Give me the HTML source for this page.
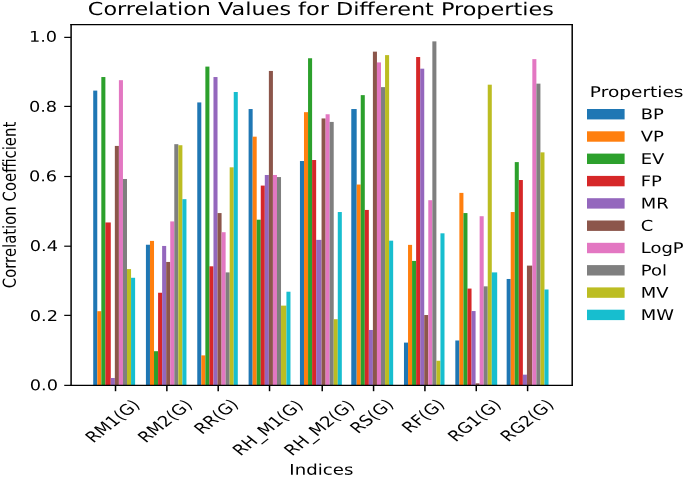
<!DOCTYPE html>
<html lang="en"><head><meta charset="utf-8"><title>Correlation Values for Different Properties</title>
<style>html,body{margin:0;padding:0;background:#fff}svg{display:block}text{font-family:'DejaVu Sans','Liberation Sans',sans-serif;fill:#000;text-rendering:geometricPrecision}</style></head><body>
<svg width="685" height="477" viewBox="0 0 685 477">
<defs><filter id="soft" filterUnits="userSpaceOnUse" x="0" y="0" width="685" height="477" color-interpolation-filters="sRGB"><feGaussianBlur stdDeviation="0.55 0.4"/></filter></defs>
<rect width="685" height="477" fill="#fff"/>
<g filter="url(#soft)">
<rect width="685" height="477" fill="#fff"/>
<g fill="#1f77b4">
<rect x="93.22" y="90.6" width="4.05" height="294.7"/>
<rect x="145.92" y="244.74" width="4.05" height="140.56"/>
<rect x="197.26" y="102.43" width="4.05" height="282.87"/>
<rect x="248.6" y="109.04" width="4.05" height="276.26"/>
<rect x="299.94" y="161.02" width="4.05" height="224.28"/>
<rect x="351.28" y="109.04" width="5.4" height="276.26"/>
<rect x="403.97" y="342.61" width="4.05" height="42.69"/>
<rect x="455.32" y="340.49" width="4.05" height="44.81"/>
<rect x="506.66" y="278.97" width="4.05" height="106.33"/>
</g>
<g fill="#ff7f0e">
<rect x="97.28" y="311.19" width="4.05" height="74.11"/>
<rect x="149.97" y="240.91" width="4.05" height="144.39"/>
<rect x="201.31" y="355.38" width="4.05" height="29.92"/>
<rect x="252.65" y="136.67" width="4.05" height="248.63"/>
<rect x="303.99" y="112.17" width="4.05" height="273.13"/>
<rect x="356.69" y="184.54" width="4.05" height="200.76"/>
<rect x="408.03" y="244.88" width="4.05" height="140.42"/>
<rect x="459.37" y="192.89" width="4.05" height="192.41"/>
<rect x="510.71" y="212.03" width="4.05" height="173.27"/>
</g>
<g fill="#2ca02c">
<rect x="101.33" y="77.03" width="4.05" height="308.27"/>
<rect x="154.02" y="351.2" width="4.05" height="34.1"/>
<rect x="205.36" y="66.6" width="4.05" height="318.7"/>
<rect x="256.71" y="219.69" width="4.05" height="165.61"/>
<rect x="308.05" y="58.25" width="4.05" height="327.05"/>
<rect x="360.74" y="95.13" width="4.05" height="290.17"/>
<rect x="412.08" y="260.92" width="4.05" height="124.38"/>
<rect x="463.42" y="213.07" width="4.05" height="172.23"/>
<rect x="514.76" y="162.1" width="4.05" height="223.2"/>
</g>
<g fill="#d62728">
<rect x="105.38" y="222.47" width="5.4" height="162.83"/>
<rect x="158.08" y="292.75" width="4.05" height="92.55"/>
<rect x="209.42" y="266.31" width="4.05" height="118.99"/>
<rect x="260.76" y="185.59" width="4.05" height="199.71"/>
<rect x="312.1" y="160.02" width="4.05" height="225.28"/>
<rect x="364.79" y="209.94" width="4.05" height="175.36"/>
<rect x="416.13" y="57.03" width="4.05" height="328.27"/>
<rect x="467.48" y="288.58" width="4.05" height="96.72"/>
<rect x="518.82" y="180.02" width="4.05" height="205.28"/>
</g>
<g fill="#9467bd">
<rect x="110.79" y="377.99" width="4.05" height="7.31"/>
<rect x="162.13" y="245.95" width="4.05" height="139.35"/>
<rect x="213.47" y="77.03" width="4.05" height="308.27"/>
<rect x="264.81" y="174.98" width="4.05" height="210.32"/>
<rect x="316.15" y="239.87" width="5.4" height="145.43"/>
<rect x="368.85" y="329.98" width="4.05" height="55.32"/>
<rect x="420.19" y="68.68" width="4.05" height="316.62"/>
<rect x="471.53" y="311.05" width="4.05" height="74.25"/>
<rect x="522.87" y="374.65" width="4.05" height="10.65"/>
</g>
<g fill="#8c564b">
<rect x="114.84" y="145.92" width="4.05" height="239.38"/>
<rect x="166.18" y="261.96" width="4.05" height="123.34"/>
<rect x="217.52" y="213.07" width="4.05" height="172.23"/>
<rect x="268.87" y="70.95" width="4.05" height="314.35"/>
<rect x="321.56" y="118.44" width="4.05" height="266.86"/>
<rect x="372.9" y="51.64" width="4.05" height="333.66"/>
<rect x="424.24" y="315.02" width="4.05" height="70.28"/>
<rect x="475.58" y="383.32" width="4.05" height="1.98"/>
<rect x="526.92" y="265.61" width="5.4" height="119.69"/>
</g>
<g fill="#e377c2">
<rect x="118.9" y="80.17" width="4.05" height="305.13"/>
<rect x="170.24" y="221.42" width="4.05" height="163.88"/>
<rect x="221.58" y="232.21" width="4.05" height="153.09"/>
<rect x="272.92" y="174.98" width="4.05" height="210.32"/>
<rect x="325.61" y="114.26" width="4.05" height="271.04"/>
<rect x="376.95" y="62.42" width="4.05" height="322.88"/>
<rect x="428.29" y="200.2" width="4.05" height="185.1"/>
<rect x="479.64" y="216.21" width="4.05" height="169.09"/>
<rect x="532.33" y="59.12" width="4.05" height="326.18"/>
</g>
<g fill="#7f7f7f">
<rect x="122.95" y="178.98" width="4.05" height="206.32"/>
<rect x="174.29" y="144.18" width="4.05" height="241.12"/>
<rect x="225.63" y="272.4" width="4.05" height="112.9"/>
<rect x="276.97" y="177.06" width="4.05" height="208.24"/>
<rect x="329.66" y="121.92" width="4.05" height="263.38"/>
<rect x="381.01" y="87.12" width="4.05" height="298.18"/>
<rect x="432.35" y="41.37" width="4.05" height="343.93"/>
<rect x="483.69" y="286.35" width="4.05" height="98.95"/>
<rect x="536.38" y="83.64" width="4.05" height="301.66"/>
</g>
<g fill="#bcbd22">
<rect x="127" y="269.09" width="4.05" height="116.21"/>
<rect x="178.34" y="145.23" width="4.05" height="240.07"/>
<rect x="229.68" y="167.32" width="4.05" height="217.98"/>
<rect x="281.03" y="305.62" width="5.4" height="79.68"/>
<rect x="333.72" y="319.19" width="4.05" height="66.11"/>
<rect x="385.06" y="55.11" width="4.05" height="330.19"/>
<rect x="436.4" y="360.74" width="4.05" height="24.56"/>
<rect x="487.74" y="84.69" width="4.05" height="300.61"/>
<rect x="540.43" y="152.36" width="4.05" height="232.94"/>
</g>
<g fill="#17becf">
<rect x="131.06" y="277.79" width="4.05" height="107.51"/>
<rect x="182.4" y="199.16" width="4.05" height="186.14"/>
<rect x="233.74" y="92" width="4.05" height="293.3"/>
<rect x="286.43" y="291.71" width="4.05" height="93.59"/>
<rect x="337.77" y="212.03" width="4.05" height="173.27"/>
<rect x="389.11" y="240.67" width="4.05" height="144.63"/>
<rect x="440.45" y="233.32" width="4.05" height="151.98"/>
<rect x="491.79" y="272.4" width="5.4" height="112.9"/>
<rect x="544.49" y="289.48" width="4.05" height="95.82"/>
</g>
<g stroke="#000" fill="none">
<line x1="115.52" y1="385.3" x2="115.52" y2="391.2" stroke-width="1.5"/>
<line x1="166.86" y1="385.3" x2="166.86" y2="391.2" stroke-width="1.5"/>
<line x1="218.2" y1="385.3" x2="218.2" y2="391.2" stroke-width="1.5"/>
<line x1="269.54" y1="385.3" x2="269.54" y2="391.2" stroke-width="1.5"/>
<line x1="322.23" y1="385.3" x2="322.23" y2="391.2" stroke-width="1.5"/>
<line x1="373.57" y1="385.3" x2="373.57" y2="391.2" stroke-width="1.5"/>
<line x1="424.92" y1="385.3" x2="424.92" y2="391.2" stroke-width="1.5"/>
<line x1="476.26" y1="385.3" x2="476.26" y2="391.2" stroke-width="1.5"/>
<line x1="527.6" y1="385.3" x2="527.6" y2="391.2" stroke-width="1.5"/>
<line x1="64.22" y1="385.36" x2="71.1" y2="385.36" stroke-width="1.19"/>
<line x1="64.22" y1="315.36" x2="71.1" y2="315.36" stroke-width="1.19"/>
<line x1="64.22" y1="246.2" x2="71.1" y2="246.2" stroke-width="1.19"/>
<line x1="64.22" y1="176.5" x2="71.1" y2="176.5" stroke-width="1.19"/>
<line x1="64.22" y1="106.4" x2="71.1" y2="106.4" stroke-width="1.19"/>
<line x1="64.22" y1="37.37" x2="71.1" y2="37.37" stroke-width="1.19"/>
<line x1="71.1" y1="24.11" x2="71.1" y2="385.89" stroke-width="1.5"/>
<line x1="572.2" y1="24.11" x2="572.2" y2="385.89" stroke-width="1.5"/>
<line x1="70.35" y1="24.7" x2="572.95" y2="24.7" stroke-width="1.19"/>
<line x1="70.35" y1="385.3" x2="572.95" y2="385.3" stroke-width="1.19"/>
</g>
<text transform="translate(93.37 443.42) scale(1.88 1.487) rotate(-44.97) scale(0.957 1)" font-size="10" text-anchor="start">RM1(G)</text>
<text transform="translate(145.71 443.42) scale(1.88 1.487) rotate(-44.97) scale(0.957 1)" font-size="10" text-anchor="start">RM2(G)</text>
<text transform="translate(201.99 434.96) scale(1.88 1.487) rotate(-44.97) scale(0.957 1)" font-size="10" text-anchor="start">RR(G)</text>
<text transform="translate(240.48 456.57) scale(1.88 1.487) rotate(-44.97) scale(0.957 1)" font-size="10" text-anchor="start">RH_M1(G)</text>
<text transform="translate(292.07 456.57) scale(1.88 1.487) rotate(-44.97) scale(0.957 1)" font-size="10" text-anchor="start">RH_M2(G)</text>
<text transform="translate(357.97 434.33) scale(1.88 1.487) rotate(-44.97) scale(0.957 1)" font-size="10" text-anchor="start">RS(G)</text>
<text transform="translate(409.81 433.7) scale(1.88 1.487) rotate(-44.97) scale(0.957 1)" font-size="10" text-anchor="start">RF(G)</text>
<text transform="translate(455.69 442.49) scale(1.88 1.487) rotate(-44.97) scale(0.957 1)" font-size="10" text-anchor="start">RG1(G)</text>
<text transform="translate(508.33 442.49) scale(1.88 1.487) rotate(-44.97) scale(0.957 1)" font-size="10" text-anchor="start">RG2(G)</text>
<text transform="translate(58.04 390.24) scale(1.7766 1.487) rotate(0.03)" font-size="10" text-anchor="end">0.0</text>
<text transform="translate(57.94 321.09) scale(1.7766 1.487) rotate(0.03)" font-size="10" text-anchor="end">0.2</text>
<text transform="translate(57.94 251.04) scale(1.7766 1.487) rotate(0.03)" font-size="10" text-anchor="end">0.4</text>
<text transform="translate(57.14 181.14) scale(1.7766 1.487) rotate(0.03)" font-size="10" text-anchor="end">0.6</text>
<text transform="translate(57.14 111.84) scale(1.7766 1.487) rotate(0.03)" font-size="10" text-anchor="end">0.8</text>
<text transform="translate(57.14 41.74) scale(1.7766 1.487) rotate(0.03)" font-size="10" text-anchor="end">1.0</text>
<text transform="translate(321.35 474.7) scale(1.8142 1.487) rotate(0.03)" font-size="10" text-anchor="middle">Indices</text>
<text transform="translate(15.7 205) scale(1.88 1.487) rotate(-89.97) scale(1 0.95)" font-size="10" text-anchor="middle">Correlation Coefficient</text>
<text transform="translate(320.8 15.1) scale(1.8612 1.487) rotate(0.03)" font-size="12" text-anchor="middle">Correlation Values for Different Properties</text>
<text transform="translate(589.82 96.95) scale(1.8537 1.487) rotate(0.03)" font-size="10" text-anchor="start">Properties</text>
<rect x="587" y="109" width="37.6" height="10.41" fill="#1f77b4"/>
<text transform="translate(640.74 119.3) scale(1.7954 1.487) rotate(0.03)" font-size="10" text-anchor="start">BP</text>
<rect x="587" y="131.3" width="37.6" height="10.41" fill="#ff7f0e"/>
<text transform="translate(640.74 141.6) scale(1.7954 1.487) rotate(0.03)" font-size="10" text-anchor="start">VP</text>
<rect x="587" y="153.6" width="37.6" height="10.41" fill="#2ca02c"/>
<text transform="translate(640.74 163.9) scale(1.7954 1.487) rotate(0.03)" font-size="10" text-anchor="start">EV</text>
<rect x="587" y="175.9" width="37.6" height="10.41" fill="#d62728"/>
<text transform="translate(640.74 186.2) scale(1.7954 1.487) rotate(0.03)" font-size="10" text-anchor="start">FP</text>
<rect x="587" y="198.2" width="37.6" height="10.41" fill="#9467bd"/>
<text transform="translate(640.74 208.5) scale(1.7954 1.487) rotate(0.03)" font-size="10" text-anchor="start">MR</text>
<rect x="587" y="220.5" width="37.6" height="10.41" fill="#8c564b"/>
<text transform="translate(640.74 230.8) scale(1.7954 1.487) rotate(0.03)" font-size="10" text-anchor="start">C</text>
<rect x="587" y="242.8" width="37.6" height="10.41" fill="#e377c2"/>
<text transform="translate(640.74 253.1) scale(1.7954 1.487) rotate(0.03)" font-size="10" text-anchor="start">LogP</text>
<rect x="587" y="265.1" width="37.6" height="10.41" fill="#7f7f7f"/>
<text transform="translate(640.74 275.4) scale(1.7954 1.487) rotate(0.03)" font-size="10" text-anchor="start">Pol</text>
<rect x="587" y="287.4" width="37.6" height="10.41" fill="#bcbd22"/>
<text transform="translate(640.74 297.7) scale(1.7954 1.487) rotate(0.03)" font-size="10" text-anchor="start">MV</text>
<rect x="587" y="309.7" width="37.6" height="10.41" fill="#17becf"/>
<text transform="translate(640.74 320) scale(1.7954 1.487) rotate(0.03)" font-size="10" text-anchor="start">MW</text>
</g>
</svg></body></html>
